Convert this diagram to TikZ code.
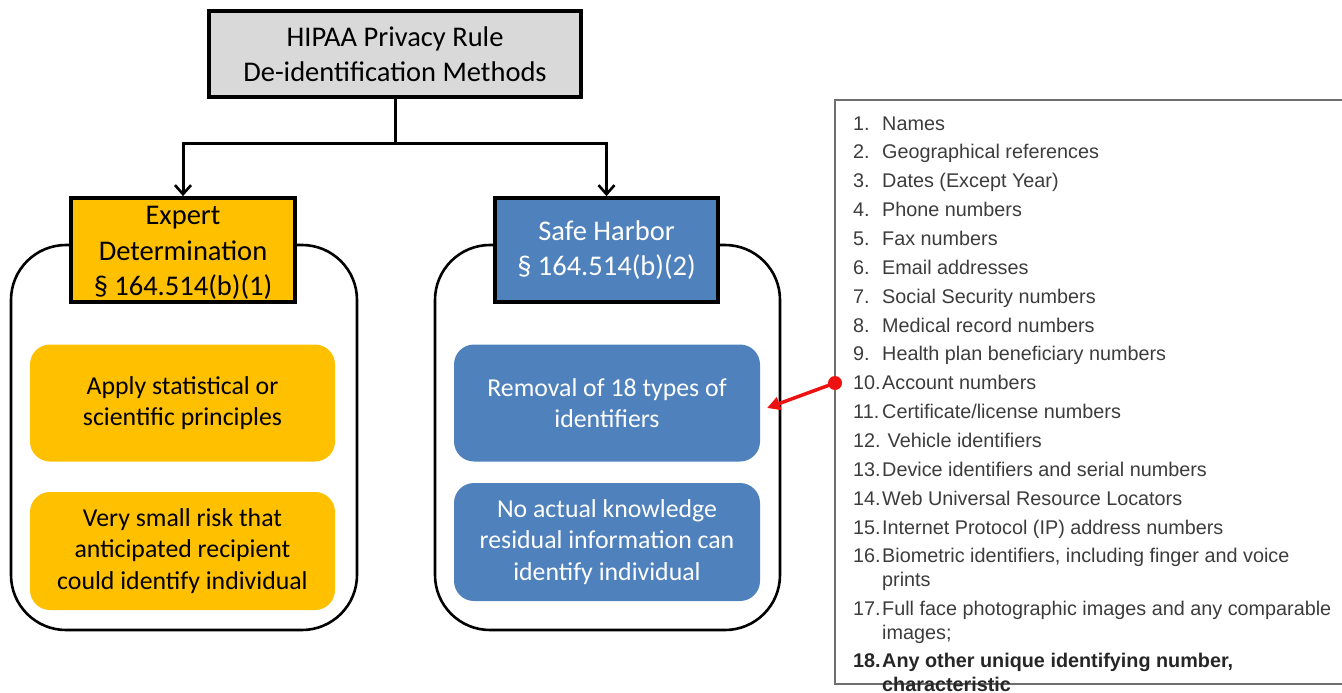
\documentclass[tikz,border=0pt]{standalone}
\usepackage{fontspec}
\setmainfont{Carlito}
\newfontfamily\listfont{Liberation Sans}
\usetikzlibrary{arrows.meta}

\definecolor{hdrgray}{HTML}{D9D9D9}
\definecolor{amber}{HTML}{FFC000}
\definecolor{steel}{HTML}{4F81BD}
\definecolor{listtext}{HTML}{3C3C3C}
\definecolor{listframe}{HTML}{6E6E6E}
\definecolor{pointer}{HTML}{EE1111}

\begin{document}
\begin{tikzpicture}[x=1pt,y=-1pt,
  headbox/.style={draw=black, line width=3.8pt, inner sep=0pt, align=center,
    font=\fontsize{28.5}{35.5}\selectfont},
  headtext/.style={inner sep=0pt, align=center, font=\fontsize{28.5}{35.5}\selectfont},
  group/.style={draw=black, line width=2.6pt, rounded corners=55pt},
  itembox/.style={rounded corners=20pt, inner sep=0pt, align=center,
    minimum width=305pt, minimum height=117pt,
    font=\fontsize{25.8}{31.5}\selectfont},
  conn/.style={draw=black, line width=3pt, -{Straight Barb[length=9pt,width=16pt,line width=2.6pt]}},
  entrynum/.style={anchor=base west, inner sep=0pt, text=listtext,
    font=\listfont\fontsize{19.8}{24}\selectfont},
  entry/.style={entrynum},
  entrybold/.style={entrynum, text=black!85, font=\listfont\bfseries\fontsize{19.8}{24}\selectfont}
]
\useasboundingbox (0,0) rectangle (1342,693);
\clip (0,0) rectangle (1342,693);

% rounded group frames behind the method headers
\draw[group] (11,245) rectangle (357,630);
\draw[group] (435,245) rectangle (780,630);

% headers
\node[headbox, fill=hdrgray, minimum width=372pt, minimum height=86pt] (top) at (395,54)
  {HIPAA Privacy Rule\\De-identification Methods};
\node[headbox, fill=amber, minimum width=224pt, minimum height=104pt] (expert) at (183,250) {};
\node[headtext] (experttext) at (183,253) {Expert\\Determination\\§ 164.514(b)(1)};
\node[headbox, fill=steel, text=white, minimum width=223pt, minimum height=104pt] (safe) at (606.5,250)
  {Safe Harbor\\§ 164.514(b)(2)};

% tree connectors
\coordinate (split) at (395,143);
\draw[line width=3pt] (top.south) -- (split);
\draw[conn] (split) -| (expert.north);
\draw[conn] (split) -| (safe.north);

% method details
\node[itembox, fill=amber] (apply) at (182.5,403) {Apply statistical or\\scientific principles};
\node[itembox, fill=amber, minimum height=118pt] (risk) at (182.5,551)
  {Very small risk that\\anticipated recipient\\could identify individual};
\node[itembox, fill=steel, text=white, minimum width=306pt] (removal) at (607,403)
  {Removal of 18 types of\\identifiers};
\node[itembox, fill=steel, text=white, minimum width=306pt, minimum height=118pt] (noknow) at (607,542)
  {No actual knowledge\\residual information can\\identify individual};

% identifier list
\draw[listframe, line width=1.5pt] (835,100) rectangle (1370,684);
\foreach \n/\t [count=\i] in {
  1./Names, 2./Geographical references, 3./Dates (Except Year),
  4./Phone numbers, 5./Fax numbers, 6./Email addresses,
  7./Social Security numbers, 8./Medical record numbers,
  9./Health plan beneficiary numbers, 10./Account numbers,
  11./Certificate{/}license numbers, 12./\ Vehicle identifiers,
  13./Device identifiers and serial numbers,
  14./Web Universal Resource Locators,
  15./Internet Protocol (IP) address numbers}{
  \pgfmathsetmacro{\yb}{130+(\i-1)*28.86}
  \node[entrynum] (num\i) at (853,\yb) {\n};
  \node[entry] (item\i) at (882,\yb) {\t};
}
\node[entrynum] (num16) at (853,562) {16.};
\node[entry] (item16) at (882,562) {Biometric identifiers, including finger and voice};
\node[entry] (item16b) at (882,586) {prints};
\node[entrynum] (num17) at (853,615) {17.};
\node[entry] (item17) at (882,615) {Full face photographic images and any comparable};
\node[entry] (item17b) at (882,639) {images;};
\node[entrybold] (num18) at (853,667) {18.};
\node[entrybold] (item18) at (882,667) {Any other unique identifying number,};
\node[entrybold] (item18b) at (882,691) {characteristic};

% pointer from the list to the Safe Harbor removal step
\coordinate (pin) at (835,383);
\coordinate (pinend) at (767,408);
\fill[pointer] (pin) circle (7pt);
\draw[pointer, line width=3.5pt, -{Triangle[length=13pt,width=13pt]}] (pin) -- (pinend);
\end{tikzpicture}
\end{document}
